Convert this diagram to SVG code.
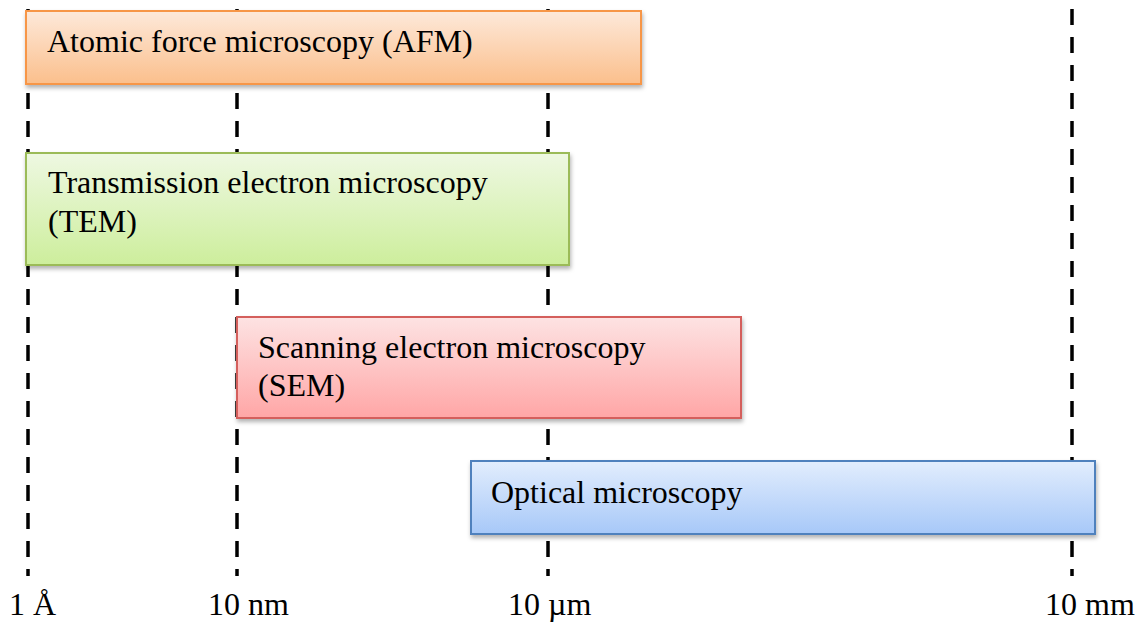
<svg xmlns="http://www.w3.org/2000/svg" width="1138" height="623" viewBox="0 0 1138 623">
<defs>
<linearGradient id="gOrange" x1="0" y1="0" x2="0" y2="1"><stop offset="0" stop-color="#fde9da"/><stop offset="1" stop-color="#fbbf8c"/></linearGradient>
<linearGradient id="gGreen" x1="0" y1="0" x2="0" y2="1"><stop offset="0" stop-color="#eef8e2"/><stop offset="1" stop-color="#cdee9c"/></linearGradient>
<linearGradient id="gRed" x1="0" y1="0" x2="0" y2="1"><stop offset="0" stop-color="#fde3e3"/><stop offset="1" stop-color="#ffa6a6"/></linearGradient>
<linearGradient id="gBlue" x1="0" y1="0" x2="0" y2="1"><stop offset="0" stop-color="#e2edfd"/><stop offset="1" stop-color="#a7c8f8"/></linearGradient>
<filter id="shadow" x="-5%" y="-10%" width="110%" height="130%"><feDropShadow dx="1" dy="3" stdDeviation="2" flood-color="#000" flood-opacity="0.3"/></filter>
</defs>
<style>
.axis{stroke:#000;stroke-width:3.5;stroke-dasharray:16 12;fill:none}
.box{stroke-width:2;filter:url(#shadow)}
text{font-family:"Liberation Serif","Times New Roman",serif;font-size:32px;fill:#000}
</style>
<g id="connectors">
<line class="axis" x1="28" y1="9" x2="28" y2="576"/>
<line class="axis" x1="237" y1="9" x2="237" y2="576"/>
<line class="axis" x1="548" y1="9" x2="548" y2="576"/>
<line class="axis" x1="1072" y1="9" x2="1072" y2="576"/>
</g>
<g id="afm">
<rect class="box" x="26" y="11" width="615" height="73" fill="url(#gOrange)" stroke="#f79646"/>
<text x="47" y="52">Atomic force microscopy (AFM)</text>
</g>
<g id="tem">
<rect class="box" x="26" y="153" width="543" height="112" fill="url(#gGreen)" stroke="#9bbb59"/>
<text x="48" y="193">Transmission electron microscopy</text>
<text x="48" y="232">(TEM)</text>
</g>
<g id="sem">
<rect class="box" x="237" y="317" width="504" height="101" fill="url(#gRed)" stroke="#d45f5c"/>
<text x="258" y="358">Scanning electron microscopy</text>
<text x="258" y="396">(SEM)</text>
</g>
<g id="optical">
<rect class="box" x="471" y="461" width="624" height="73" fill="url(#gBlue)" stroke="#4f81bd"/>
<text x="491" y="503">Optical microscopy</text>
</g>
<g id="labels">
<text x="9" y="615">1 Å</text>
<text x="208" y="615">10 nm</text>
<text x="508" y="615">10 µm</text>
<text x="1045" y="615">10 mm</text>
</g>
</svg>
